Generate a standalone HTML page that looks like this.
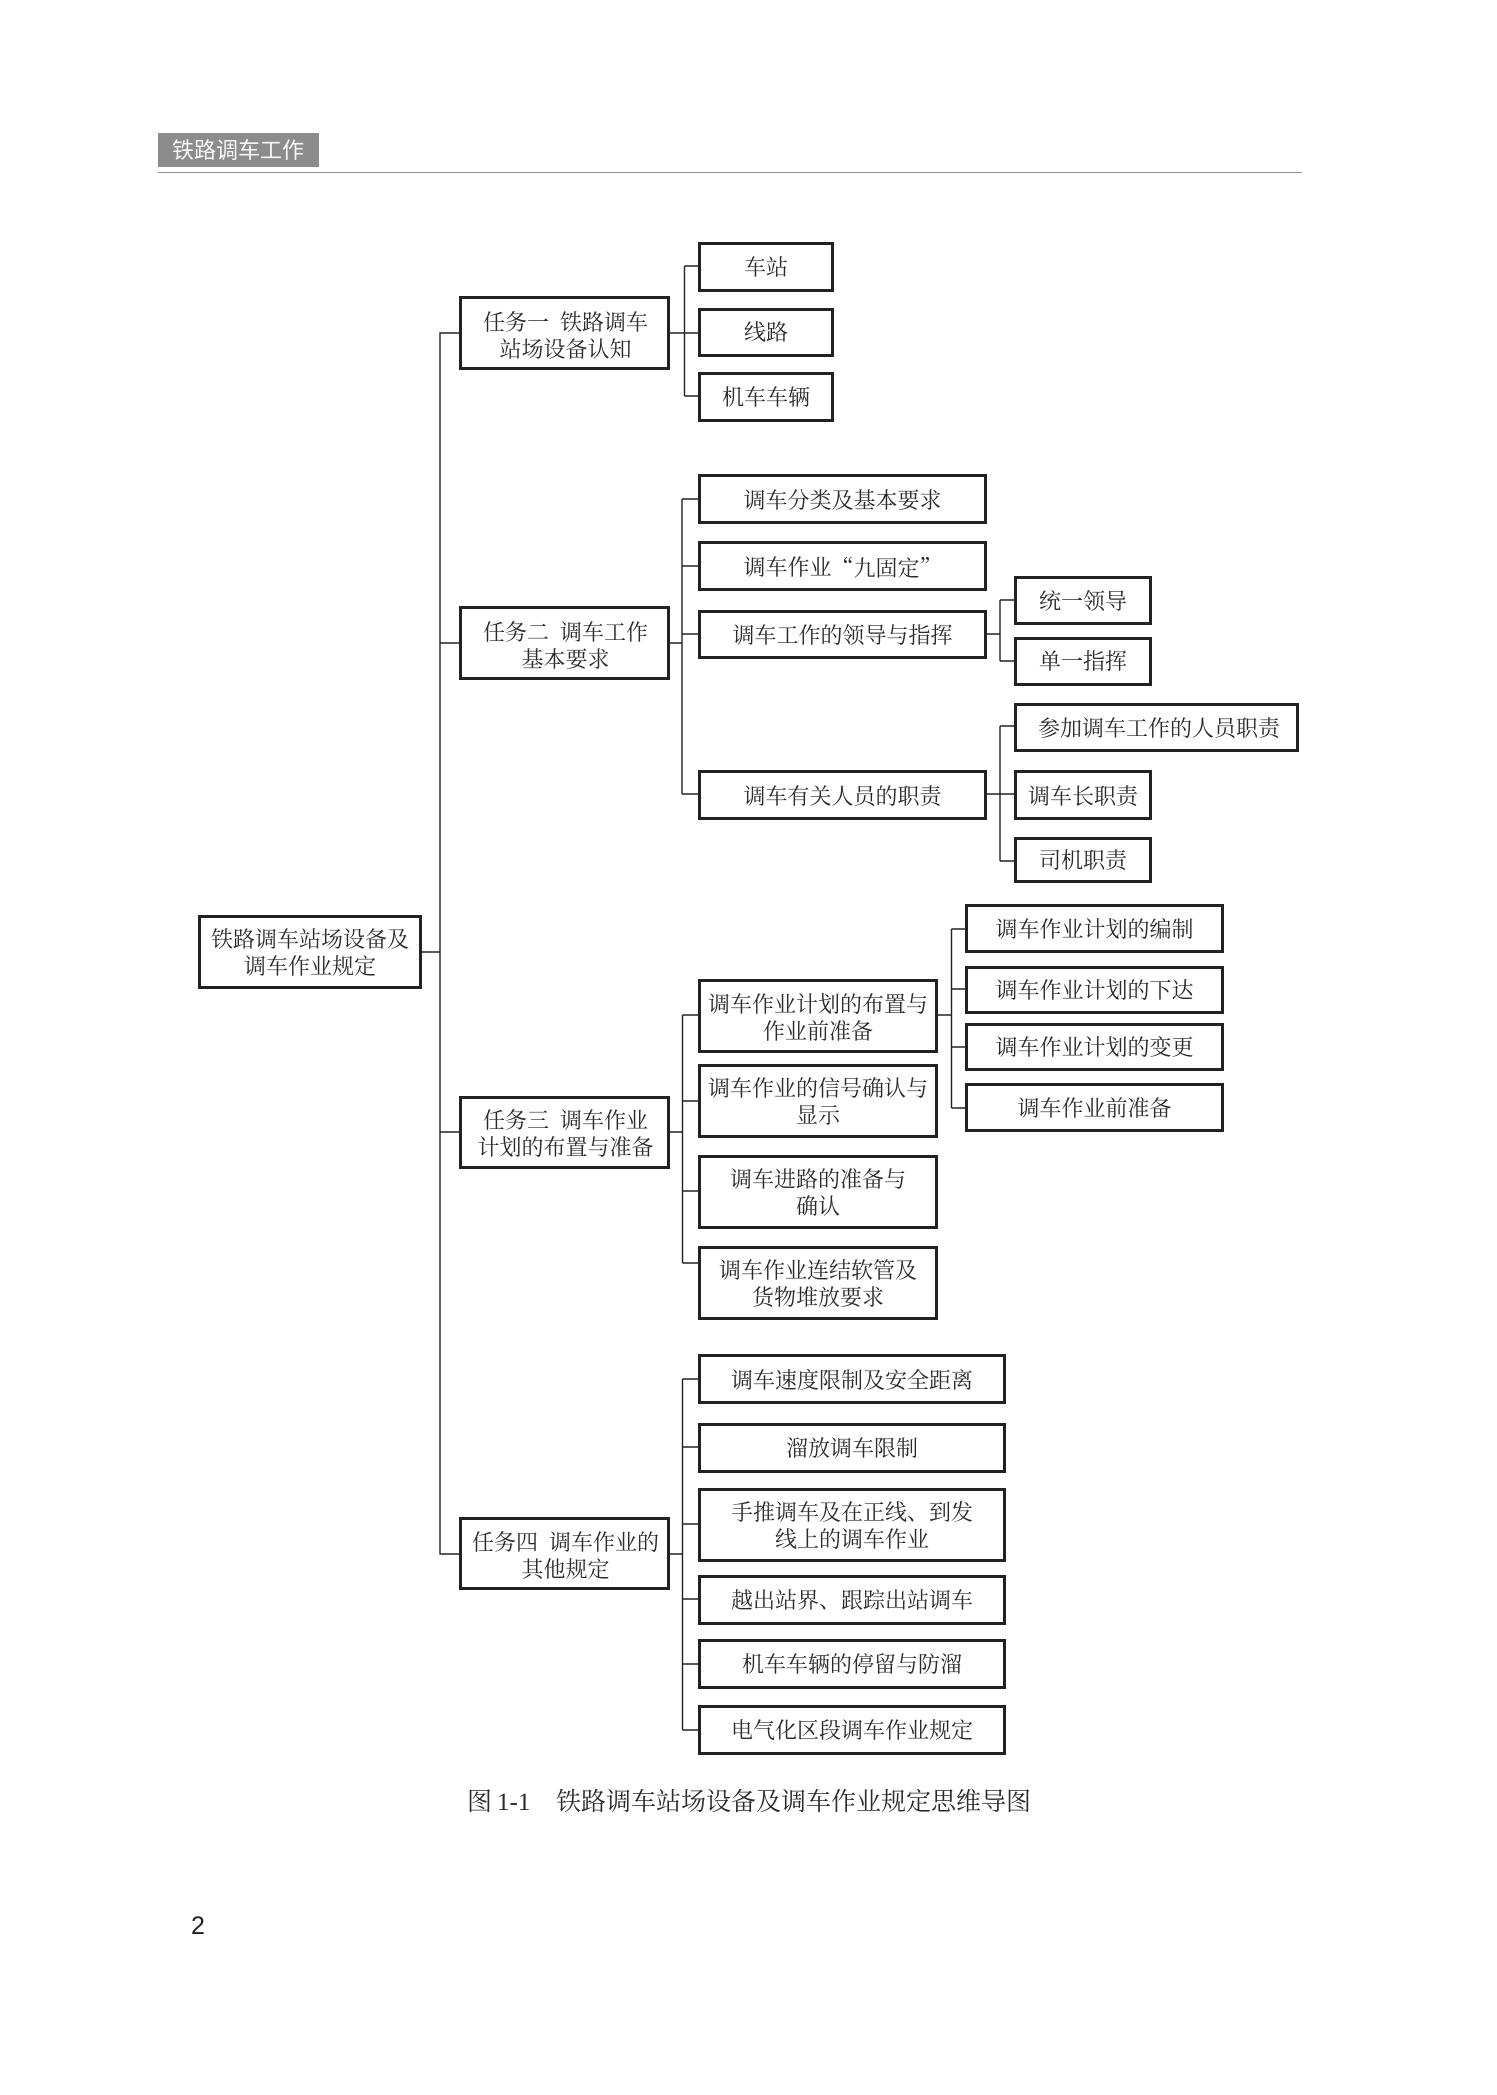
<!DOCTYPE html>
<html lang="zh-CN">
<head>
<meta charset="utf-8">
<title>铁路调车站场设备及调车作业规定思维导图</title>
<style>
html,body{margin:0;padding:0;background:#fff;}
#page{position:relative;width:1497px;height:2095px;overflow:hidden;background:#fff;
  font-family:"Liberation Serif","Noto Serif CJK SC",serif;color:#2a2a2a;}
svg{position:absolute;left:0;top:0;}
.b{position:absolute;box-sizing:border-box;border:3px solid #222;background:#fff;
  display:flex;align-items:center;justify-content:center;text-align:center;
  font-size:22px;line-height:27px;white-space:pre;font-weight:400;}
.s{padding-top:2px;}
.m{padding-top:1px;}
.k{padding-top:5px;padding-left:2px;}
.q{font-family:"Noto Serif CJK SC",serif;}
.t{position:absolute;white-space:pre;line-height:1;}
</style>
</head>
<body>
<div id="page">
<div style="position:absolute;left:158px;top:133px;width:161px;height:34px;background:#8c8c8c;"></div>
<div class="t" style="left:172px;top:140px;font-size:22px;color:#f6f6f6;font-family:'Liberation Sans','Noto Sans CJK SC',sans-serif;">铁路调车工作</div>
<div style="position:absolute;left:158px;top:172px;width:1144px;height:1px;background:#8f8f8f;"></div>

<svg width="1497" height="2095" viewBox="0 0 1497 2095">
<g stroke="#222" stroke-width="1.4" fill="none">
<path d="M421 952H440M459 333H440V1554H459M440 643H459M440 1132H459"/>
<path d="M670 333H698M684.5 266H698M684.5 396H698M684.5 266V396"/>
<path d="M670 643H682M682 499H698M682 566H698M682 634H698M682 794H698M682 499V794"/>
<path d="M987 634H1000M1000 600H1014M1000 661H1014M1000 600V661"/>
<path d="M987 794H1014M1000 726H1014M1000 861H1014M1000 726V861"/>
<path d="M670 1132H682.5M682.5 1015H698M682.5 1101H698M682.5 1191H698M682.5 1263H698M682.5 1015V1263"/>
<path d="M938 1015H951.5M951.5 929H965M951.5 989H965M951.5 1047H965M951.5 1108H965M951.5 929V1108"/>
<path d="M670 1554H682.5M682.5 1379H698M682.5 1447H698M682.5 1524H698M682.5 1599H698M682.5 1664H698M682.5 1730H698M682.5 1379V1730"/>
</g>
</svg>

<div class="b m" style="left:198px;top:915px;width:224px;height:74px;">铁路调车站场设备及
调车作业规定</div>

<div class="b k" style="left:459px;top:296px;width:211px;height:74px;">任务一&#8194;铁路调车
站场设备认知</div>
<div class="b k" style="left:459px;top:606px;width:211px;height:74px;">任务二&#8194;调车工作
基本要求</div>
<div class="b" style="left:459px;top:1096px;width:211px;height:73px;padding-left:2px;padding-top:3px;">任务三&#8194;调车作业
计划的布置与准备</div>
<div class="b k" style="left:459px;top:1517px;width:211px;height:73px;">任务四&#8194;调车作业的
其他规定</div>

<div class="b" style="left:698px;top:242px;width:136px;height:50px;">车站</div>
<div class="b" style="left:698px;top:308px;width:136px;height:49px;">线路</div>
<div class="b" style="left:698px;top:372px;width:136px;height:50px;">机车车辆</div>

<div class="b s" style="left:698px;top:474px;width:289px;height:50px;">调车分类及基本要求</div>
<div class="b s" style="left:698px;top:541px;width:289px;height:50px;">调车作业<span class="q">“九固定”</span></div>
<div class="b s" style="left:698px;top:610px;width:289px;height:49px;">调车工作的领导与指挥</div>
<div class="b s" style="left:698px;top:770px;width:289px;height:50px;">调车有关人员的职责</div>

<div class="b s" style="left:1014px;top:576px;width:138px;height:49px;">统一领导</div>
<div class="b" style="left:1014px;top:637px;width:138px;height:49px;">单一指挥</div>
<div class="b s" style="left:1014px;top:703px;width:285px;height:49px;padding-left:5px;">参加调车工作的人员职责</div>
<div class="b s" style="left:1014px;top:770px;width:138px;height:50px;">调车长职责</div>
<div class="b" style="left:1014px;top:837px;width:138px;height:46px;">司机职责</div>

<div class="b" style="left:698px;top:979px;width:240px;height:74px;padding-top:3px;">调车作业计划的布置与
作业前准备</div>
<div class="b m" style="left:698px;top:1064px;width:240px;height:74px;">调车作业的信号确认与
显示</div>
<div class="b m" style="left:698px;top:1155px;width:240px;height:74px;">调车进路的准备与
确认</div>
<div class="b m" style="left:698px;top:1246px;width:240px;height:74px;">调车作业连结软管及
货物堆放要求</div>

<div class="b s" style="left:965px;top:904px;width:259px;height:49px;">调车作业计划的编制</div>
<div class="b" style="left:965px;top:966px;width:259px;height:48px;">调车作业计划的下达</div>
<div class="b" style="left:965px;top:1023px;width:259px;height:48px;">调车作业计划的变更</div>
<div class="b s" style="left:965px;top:1083px;width:259px;height:49px;">调车作业前准备</div>

<div class="b s" style="left:698px;top:1354px;width:308px;height:50px;">调车速度限制及安全距离</div>
<div class="b" style="left:698px;top:1423px;width:308px;height:50px;">溜放调车限制</div>
<div class="b" style="left:698px;top:1488px;width:308px;height:74px;padding-top:1px;">手推调车及在正线、到发
线上的调车作业</div>
<div class="b" style="left:698px;top:1575px;width:308px;height:50px;">越出站界、跟踪出站调车</div>
<div class="b" style="left:698px;top:1639px;width:308px;height:50px;">机车车辆的停留与防溜</div>
<div class="b" style="left:698px;top:1705px;width:308px;height:50px;">电气化区段调车作业规定</div>

<div class="t" style="left:467px;top:1790px;font-size:25px;">图</div>
<div class="t" style="left:497px;top:1790px;font-size:25px;">1-1</div>
<div class="t" style="left:556px;top:1790px;font-size:25px;">铁路调车站场设备及调车作业规定思维导图</div>

<div class="t" style="left:191px;top:1914px;font-size:25px;color:#222;font-family:'Liberation Sans',sans-serif;">2</div>
</div>
</body>
</html>
